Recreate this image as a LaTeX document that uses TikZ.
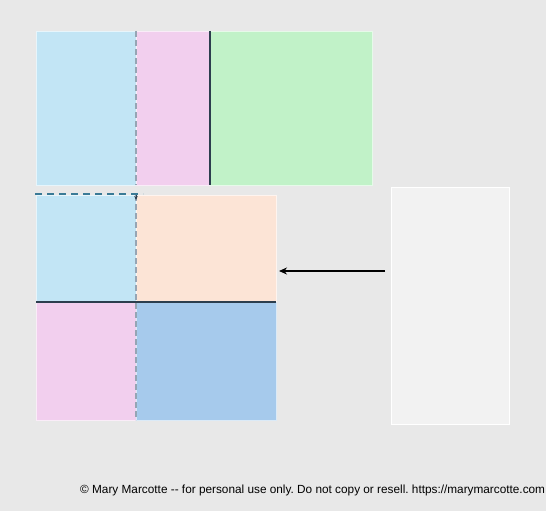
\documentclass[tikz,border=0pt]{standalone}
\usepackage{fontspec}
\setmainfont{Liberation Sans}
\definecolor{mybg}{RGB}{232, 232, 232}
\definecolor{mylightblue}{RGB}{194, 229, 245}
\definecolor{mypink}{RGB}{242, 207, 238}
\definecolor{mygreen}{RGB}{193, 242, 200}
\definecolor{mypeach}{RGB}{252, 228, 214}
\definecolor{myblue}{RGB}{166, 202, 236}
\definecolor{mygrey}{RGB}{242, 242, 242}
\definecolor{myteal}{RGB}{58, 122, 150}
\definecolor{mydark}{RGB}{44, 62, 78}
\definecolor{mydash}{RGB}{150, 165, 180}
\usetikzlibrary{arrows.meta, positioning}

\begin{document}
\begin{tikzpicture}[x = 1pt, y = -1pt,
	cell/.style = {rectangle, inner sep = 0pt, outer sep = 0pt, draw = white, line width = 0.8pt}]
	\useasboundingbox (0, 0) rectangle (546, 511);
	\fill[mybg] (0, 0) rectangle (546, 511);

	\node[cell, fill = mylightblue, draw = mylightblue!40!white, minimum width = 100pt, minimum height = 154pt, anchor = north west] (tl) at (36, 31) {};
	\node[cell, fill = mypink, draw = mypink!40!white, minimum width = 74pt, minimum height = 154pt, right = 0pt of tl] (tm) {};
	\node[cell, fill = mygreen, draw = mygreen!40!white, minimum width = 162pt, minimum height = 154pt, right = 0pt of tm] (tr) {};

	\node[cell, fill = mylightblue, draw = mylightblue!40!white, minimum width = 100pt, minimum height = 107pt, anchor = north west] (bl) at (36, 195) {};
	\node[cell, fill = mypeach, draw = mypeach!40!white, minimum width = 140pt, minimum height = 107pt, right = 0pt of bl] (bm) {};
	\node[cell, fill = mypink, draw = mypink!40!white, minimum width = 100pt, minimum height = 118pt, below = 0pt of bl] (ll) {};
	\node[cell, fill = myblue, draw = myblue!40!white, minimum width = 140pt, minimum height = 118pt, right = 0pt of ll] (lr) {};

	\node[cell, fill = mygrey, minimum width = 118pt, minimum height = 237pt, anchor = north west] (side) at (391, 187) {};

	\coordinate (dashstart) at (35, 194);
	\coordinate (dashend) at (143, 194);
	\coordinate (tipend) at (136, 200);
	\coordinate (arrowstart) at (385, 271);

	\draw[mydash, line width = 1.3pt, dash pattern = on 6pt off 3pt] (tl.north east) -- (tl.south east);
	\draw[mydash, line width = 1.3pt, dash pattern = on 6pt off 3pt] (bl.north east) -- (ll.south east);
	\draw[mydark, line width = 1.5pt] (tm.north east) -- (tm.south east);
	\draw[mydark, line width = 1.5pt] (ll.north west) -- (lr.north east);
	\draw[myteal, line width = 1.4pt, dash pattern = on 7pt off 5pt] (dashstart) -- (dashend);
	\draw[mydark, line width = 0.6pt, -{Stealth[length = 4pt, width = 3.5pt]}] (bl.north east) -- (tipend);

	\draw[line width = 2.4pt, -{Stealth[length = 8pt, width = 7pt]}, shorten >= 3pt] (arrowstart) -- (bm.east |- arrowstart);

	\node[anchor = west, font = \fontsize{11.8}{14}\selectfont\frenchspacing, inner sep = 0pt] (note) at (80, 490) {© Mary Marcotte -{}- for personal use only. Do not copy or resell. https://marymarcotte.com};
\end{tikzpicture}
\end{document}
